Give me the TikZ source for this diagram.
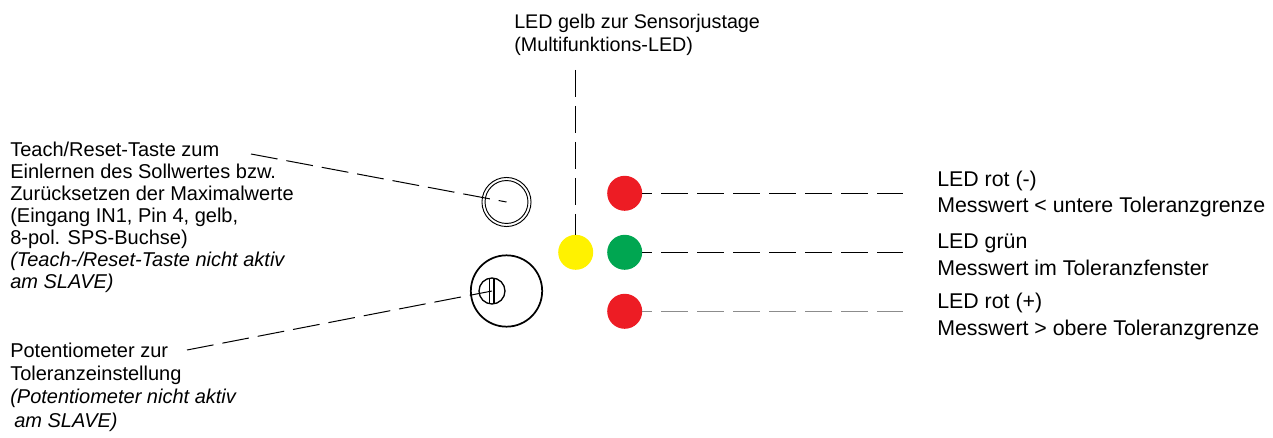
\documentclass[tikz,border=0pt]{standalone}
\usepackage{fontspec}
\setmainfont{Liberation Sans}
\usetikzlibrary{calc}
\definecolor{ledred}{HTML}{ED1C24}
\definecolor{ledgreen}{HTML}{00A651}
\definecolor{ledyellow}{HTML}{FFF200}
\tikzset{
	led/.style={circle, inner sep=0pt, minimum size=26.25pt},
	leader/.style={line width=0.75pt, dash pattern=on 20.25pt off 6.75pt},
	ledline/.style={leader, dash phase=12.75pt},
	lefttext/.style={anchor=base west, inner sep=0pt, align=left, font=\fontsize{15}{16.5}\selectfont},
	righttext/.style={anchor=base west, inner sep=0pt, align=left, font=\fontsize{16}{20}\selectfont},
	toptext/.style={anchor=base west, inner sep=0pt, align=left, font=\fontsize{14.8}{17.25}\selectfont}
}

\begin{document}
\begin{tikzpicture}[x=0.75pt, y=-0.75pt]
		%%%%% START %%%%%
		\useasboundingbox (0, 0) rectangle (1273, 438);
		
		% labels (anchored at the baseline of their last line)
		\node[toptext] (gelbtext) at (514, 51.7) {LED gelb zur Sensorjustage\\(Multifunktions-LED)};
		\node[lefttext] (teachtext) at (10, 288) {Teach/Reset-Taste zum\\Einlernen des Sollwertes bzw.\\Zur\"ucksetzen der Maximalwerte\\(Eingang IN1, Pin 4, gelb,\\8-pol. SPS-Buchse)\\\textit{(Teach-/Reset-Taste nicht aktiv}\\\textit{am SLAVE)}};
		\node[lefttext, font=\fontsize{15}{17.5}\selectfont] (potitext) at (10, 427) {Potentiometer zur\\Toleranzeinstellung\\\textit{(Potentiometer nicht aktiv}\\\textit{\hspace{3pt}am SLAVE)}};
		\node[righttext] (rot1text) at (937, 213) {LED rot (-)\\Messwert < untere Toleranzgrenze};
		\node[righttext] (gruentext) at (937, 275) {LED gr\"un\\Messwert im Toleranzfenster};
		\node[righttext] (rot2text) at (937, 335) {LED rot (+)\\Messwert > obere Toleranzgrenze};
		
		% teach button
		\node[circle, inner sep=0pt, minimum size=36.75pt] (teach) at (506.5, 202) {};
		\draw[line width=0.7pt] (teach) circle (18.4pt);
		\draw[line width=0.7pt] (teach) circle (16.1pt);
		
		% potentiometer
		\node[circle, draw, line width=1.3pt, inner sep=0pt, minimum size=53.5pt] (poti) at (506.5, 291) {};
		\node[circle, draw, line width=1pt, inner sep=0pt, minimum size=19.5pt] (potiknob) at (492, 291) {};
		\draw[line width=1pt] (489.7, 278.2) -- (489.7, 303.8);
		\draw[line width=1pt] (494, 278.2) -- (494, 303.8);
		
		% leds
		\node[led, fill=ledyellow] (gelb) at (575.7, 252.3) {};
		\node[led, fill=ledred] (rot1) at (624.7, 193.3) {};
		\node[led, fill=ledgreen] (gruen) at (624.7, 252.3) {};
		\node[led, fill=ledred] (rot2) at (624.7, 311.3) {};
		
		% leader lines
		\coordinate (gelbtop) at (575.7, 70);
		\coordinate (teachstart) at (251, 154);
		\coordinate (potistart) at (187, 350);
		\coordinate (rot1end) at (903, 193.3);
		\coordinate (gruenend) at (903, 252.3);
		\coordinate (rot2end) at (903, 311.3);
		
		\draw[leader] (gelbtop) -- (gelb.north);
		\draw[leader] (teachstart) -- (teach.center);
		\draw[leader] (potistart) -- (potiknob.center);
		\draw[ledline] (rot1.east) -- (rot1end);
		\draw[ledline] (gruen.east) -- (gruenend);
		\draw[ledline, color=black!45, line width=1.2pt] (rot2.east) -- (rot2end);
		%%%%% END %%%%%
\end{tikzpicture}
\end{document}
